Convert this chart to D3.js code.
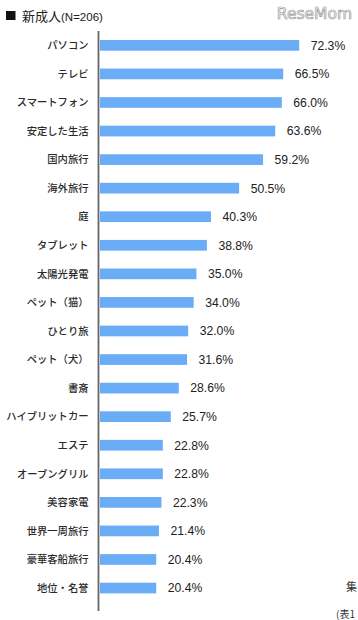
<!DOCTYPE html>
<html><head><meta charset="utf-8">
<script src="https://cdn.jsdelivr.net/npm/d3@7"></script>
<style>
html,body{margin:0;padding:0;background:#fff;overflow:hidden;}
svg{display:block;}
</style></head>
<body>
<svg id="c" width="358" height="620"></svg>
<script>
const categories = ["パソコン","テレビ","スマートフォン","安定した生活","国内旅行","海外旅行","庭","タブレット","太陽光発電","ペット（猫）","ひとり旅","ペット（犬）","書斎","ハイブリットカー","エステ","オーブングリル","美容家電","世界一周旅行","豪華客船旅行","地位・名誉"];
const values = [72.3,66.5,66.0,63.6,59.2,50.5,40.3,38.8,35.0,34.0,32.0,31.6,28.6,25.7,22.8,22.8,22.3,21.4,20.4,20.4];
const title = "新成人";
const titleN = "(N=206)";

const svg = d3.select("#c");
const x = d3.scaleLinear().domain([0,100]).range([100, 375.5]);
const y = d3.scaleBand().domain(categories).range([40, 593.4]).paddingInner(0.625).paddingOuter(0);

// title
svg.append("rect").attr("x",6).attr("y",11).attr("width",9.5).attr("height",9).attr("fill","#111");
const t = svg.append("text").attr("x",22).attr("y",20.5).attr("font-family","'Noto Sans CJK JP'").attr("fill","#222");
t.append("tspan").attr("font-size",13).text(title);
t.append("tspan").attr("font-size",11.5).attr("font-family","'Liberation Sans',Arial").text(titleN);

// watermark
svg.append("text").attr("x",352).attr("y",19).attr("text-anchor","end")
  .attr("font-family","'DejaVu Sans'").attr("font-size",15.5)
  .attr("fill","#fff").attr("stroke","#999").attr("stroke-width",0.7)
  .text("ReseMom");

// bars
svg.append("g").selectAll("rect").data(values).join("rect")
  .attr("x", x(0))
  .attr("y", (d,i)=>y(categories[i]))
  .attr("width", d=>x(d)-x(0))
  .attr("height", y.bandwidth())
  .attr("fill","#6aacf6");

// value labels
svg.append("g").selectAll("text").data(values).join("text")
  .attr("x", d=>x(d)+11.5)
  .attr("y", (d,i)=>y(categories[i])+y.bandwidth()/2)
  .attr("dy","0.36em")
  .attr("font-family","'Liberation Sans',Arial")
  .attr("font-size",12.2)
  .attr("fill","#222")
  .text(d=>d.toFixed(1)+"%");

// category axis
const axis = d3.axisLeft(y).tickSize(0).tickPadding(10);
const ag = svg.append("g").attr("transform","translate(98.5,0)").call(axis);
ag.select(".domain").remove();
ag.selectAll("text").attr("font-family","'Noto Sans CJK JP'").attr("font-size",10.3)
  .attr("font-weight","500").attr("fill","#2a2a2a").attr("dy","0.36em");
svg.append("line").attr("x1",98.5).attr("x2",98.5).attr("y1",31).attr("y2",611)
  .attr("stroke","#666").attr("stroke-width",1.8);

// partially visible notes at right edge
svg.append("text").attr("x",346).attr("y",591).attr("font-family","'Noto Sans CJK JP'").attr("font-size",11).attr("fill","#333").text("集");
svg.append("text").attr("x",336).attr("y",618).attr("font-family","'Noto Sans CJK JP'").attr("font-size",10).attr("fill","#333").text("(表1");
</script>
</body></html>
